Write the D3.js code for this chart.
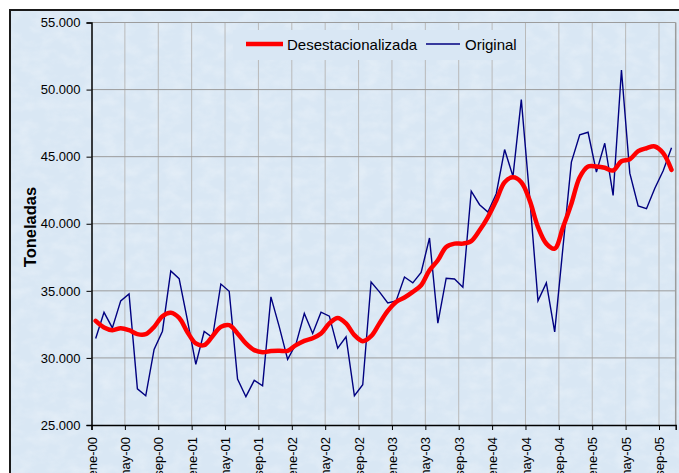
<!DOCTYPE html>
<html>
<head>
<meta charset="utf-8">
<script src="https://cdn.jsdelivr.net/npm/d3@7"></script>
<style>
  body { margin: 0; background: #fff; }
  text { font-family: "Liberation Sans", Arial, sans-serif; }
</style>
</head>
<body>
<svg id="chart"></svg>
<script>
// tick labels along the x axis (every 4 months)
var tickLabels = ["ene-00", "may-00", "sep-00", "ene-01", "may-01", "sep-01",
                  "ene-02", "may-02", "sep-02", "ene-03", "may-03", "sep-03",
                  "ene-04", "may-04", "sep-04", "ene-05", "may-05", "sep-05"];

// monthly values, ene-00 .. oct-05
var original = [31450, 33400, 32240, 34250, 34770, 27700, 27180, 30630, 31990, 36480,
                35910, 32800, 29520, 31970, 31520, 35510, 34970, 28420, 27110, 28330,
                27920, 34550, 32310, 29890, 31030, 33310, 31820, 33410, 33110, 30730,
                31570, 27180, 28000, 35660, 34920, 34100, 34250, 36030, 35590, 36380,
                38940, 32590, 35940, 35880, 35270, 42430, 41420, 40870, 42240, 45530,
                43530, 49250, 42000, 34250, 35590, 31940, 38300, 44590, 46630, 46820,
                43850, 46000, 42110, 51460, 43770, 41320, 41120, 42650, 43950, 45660];

var desestacionalizada = [32760, 32270, 32070, 32220, 32070, 31770, 31770, 32310, 33110, 33360,
                          32980, 31920, 31080, 30950, 31620, 32310, 32440, 31820, 31080, 30580,
                          30430, 30510, 30530, 30530, 30950, 31270, 31470, 31820, 32570, 32980,
                          32570, 31700, 31250, 31620, 32570, 33500, 34170, 34500, 34920, 35420,
                          36530, 37280, 38270, 38520, 38520, 38710, 39510, 40500, 41740, 43100,
                          43470, 43100, 41740, 39750, 38520, 38150, 39750, 41490, 43470, 44270,
                          44270, 44170, 43970, 44660, 44810, 45410, 45630, 45760, 45260, 44020];

var yTicks = [25000, 30000, 35000, 40000, 45000, 50000, 55000];

var bg = "#d9e7f4";

function createChart(width, height) {
  var svg = d3.select("#chart")
              .attr("width", width)
              .attr("height", height);

  // tissue-like texture for the chart area
  var defs = svg.append("defs");
  var filt = defs.append("filter").attr("id", "paper")
                 .attr("x", 0).attr("y", 0).attr("width", "100%").attr("height", "100%");
  filt.append("feTurbulence")
      .attr("type", "fractalNoise")
      .attr("baseFrequency", "0.06 0.09")
      .attr("numOctaves", 3)
      .attr("seed", 4);
  filt.append("feColorMatrix")
      .attr("values", "0 0 0 0 1  0 0 0 0 1  0 0 0 0 1  0 0 0 0.9 -0.35");
  filt.append("feComposite").attr("in2", "SourceGraphic").attr("operator", "in");

  svg.append("rect")
     .attr("x", 10).attr("y", 10)
     .attr("width", width).attr("height", height)
     .attr("fill", bg)
     .attr("stroke", "#1a1a1a")
     .attr("stroke-width", 2);

  svg.append("rect")
     .attr("x", 11).attr("y", 11)
     .attr("width", width).attr("height", height)
     .attr("fill", bg)
     .attr("filter", "url(#paper)")
     .attr("opacity", 0.55);

  return svg;
}

function drawChart(svg) {
  var left = 91.5, right = 675.7, top = 22.5, bottom = 425;

  var x = d3.scaleLinear().domain([0, 70]).range([left, right]);
  var y = d3.scaleLinear().domain([25000, 55000]).range([bottom, top]);

  var fmt = d3.formatLocale({decimal: ",", thousands: ".", grouping: [3], currency: ["", ""]}).format(",d");
  var tickPos = tickLabels.map((d, i) => i * 4);

  // gridlines
  svg.append("g")
     .selectAll("line")
     .data(tickPos.slice(1))
     .enter()
     .append("line")
     .attr("x1", d => x(d)).attr("x2", d => x(d))
     .attr("y1", top).attr("y2", bottom)
     .attr("stroke", "#b9b9b9")
     .attr("stroke-width", 1);

  svg.append("g")
     .selectAll("line")
     .data(yTicks.slice(1))
     .enter()
     .append("line")
     .attr("x1", left).attr("x2", right)
     .attr("y1", d => y(d)).attr("y2", d => y(d))
     .attr("stroke", "#9c9c9c")
     .attr("stroke-width", 1);

  // plot area right border
  svg.append("line")
     .attr("x1", right).attr("x2", right)
     .attr("y1", top).attr("y2", bottom)
     .attr("stroke", "#9c9c9c")
     .attr("stroke-width", 1.5);

  // axes
  var yAxis = d3.axisLeft(y).tickValues(yTicks).tickFormat(fmt).tickSize(5).tickPadding(6);
  var gy = svg.append("g")
              .attr("transform", "translate(" + left + ",0)")
              .call(yAxis);
  gy.select(".domain").attr("stroke", "#000").attr("stroke-width", 1.5);
  gy.selectAll("text").attr("font-size", "13px").attr("fill", "#000")
    .attr("font-family", "Liberation Sans, Arial, sans-serif");

  var xAxis = d3.axisBottom(x).tickValues(tickPos).tickFormat((d, i) => tickLabels[i]).tickSize(5);
  var gx = svg.append("g")
              .attr("transform", "translate(0," + bottom + ")")
              .call(xAxis);
  gx.select(".domain").attr("stroke", "#000").attr("stroke-width", 1.5);
  gx.selectAll("text")
    .attr("font-size", "13px")
    .attr("fill", "#000")
    .attr("font-family", "Liberation Sans, Arial, sans-serif")
    .attr("transform", "rotate(-90)")
    .attr("x", -12)
    .attr("y", 0)
    .attr("dy", "0.35em")
    .style("text-anchor", "end");

  // series
  var lineOrig = d3.line()
                   .x((d, i) => x(i + 0.5))
                   .y(d => y(d));
  var lineDes = d3.line()
                  .x((d, i) => x(i + 0.5))
                  .y(d => y(d))
                  .curve(d3.curveCatmullRom.alpha(0.5));

  svg.append("path")
     .datum(original)
     .attr("fill", "none")
     .attr("stroke", "#000080")
     .attr("stroke-width", 1.4)
     .attr("stroke-linejoin", "miter")
     .attr("d", lineOrig);

  svg.append("path")
     .datum(desestacionalizada)
     .attr("fill", "none")
     .attr("stroke", "#ff0000")
     .attr("stroke-width", 4.5)
     .attr("stroke-linejoin", "round")
     .attr("stroke-linecap", "round")
     .attr("d", lineDes);

  // legend
  var lg = svg.append("g").attr("transform", "translate(233,30)");
  lg.append("rect")
    .attr("width", 292).attr("height", 30)
    .attr("fill", bg);
  lg.append("line")
    .attr("x1", 13).attr("x2", 50).attr("y1", 14).attr("y2", 14)
    .attr("stroke", "#ff0000").attr("stroke-width", 4.5);
  lg.append("text")
    .attr("x", 54).attr("y", 19.5)
    .attr("font-size", "15px")
    .text("Desestacionalizada");
  lg.append("line")
    .attr("x1", 193).attr("x2", 227).attr("y1", 14).attr("y2", 14)
    .attr("stroke", "#000080").attr("stroke-width", 1.4);
  lg.append("text")
    .attr("x", 232).attr("y", 19.5)
    .attr("font-size", "15px")
    .text("Original");

  // y axis title
  svg.append("text")
     .attr("transform", "translate(36,227) rotate(-90)")
     .attr("font-size", "16.5px")
     .attr("font-weight", "bold")
     .style("text-anchor", "middle")
     .text("Toneladas");
}

var svg = createChart(679, 473);
drawChart(svg);
</script>
</body>
</html>
